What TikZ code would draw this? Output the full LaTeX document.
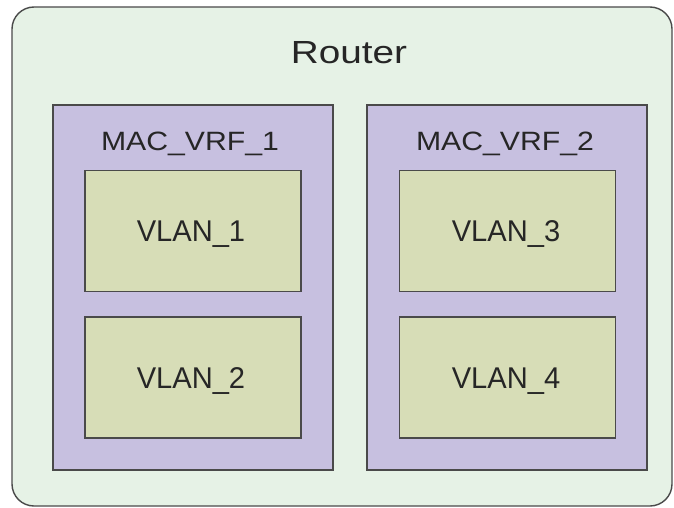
\documentclass[tikz,border=0pt]{standalone}
\usepackage{fontspec}
\setmainfont{Liberation Sans}
\newfontfamily\titlefont[FakeStretch=1.21]{Liberation Sans}
\newfontfamily\vrffont[FakeStretch=1.14]{Liberation Sans}
\newfontfamily\vlanfont[FakeStretch=0.97]{Liberation Sans}
\usetikzlibrary{positioning}

\definecolor{routerfill}{HTML}{E6F2E6}
\definecolor{vrffill}{HTML}{C7C0E0}
\definecolor{vlanfill}{HTML}{D7DDB7}
\definecolor{edgegray}{HTML}{4A4A4A}

\begin{document}
\begin{tikzpicture}[
    x=1pt, y=-1pt,
    every node/.style={align=center, inner sep=0pt, text=black!85},
    routerbox/.style={
        draw=edgegray, line width=1.4pt, fill=routerfill, rounded corners=22pt,
        minimum width=660pt, minimum height=499pt
    },
    vrfbox/.style={
        draw=edgegray, line width=1.4pt, fill=vrffill,
        minimum width=280pt, minimum height=365pt
    },
    vlanbox/.style={
        draw=edgegray, line width=1.4pt, fill=vlanfill,
        minimum width=216pt, minimum height=121pt
    },
    title/.style={anchor=base, font=\titlefont\fontsize{32}{35}\selectfont},
    vrflabel/.style={anchor=base, font=\vrffont\fontsize{26.5}{29}\selectfont},
    vlanlabel/.style={anchor=base, font=\vlanfont\fontsize{30}{33}\selectfont}
]
\useasboundingbox (0,0) rectangle (674,508);

% --- Router frame ---
\node[routerbox] (router) at (342,256.5) {};
\node[title] (routertxt) at (349,64) {Router};

% --- Left VRF with its two VLANs ---
\node[vrfbox] (vrf1) at (193,287.5) {};
\node[vrflabel] (vrf1txt) at (190,150) {MAC\_VRF\_1};
\node[vlanbox] (vlan1) at (193,231) {};
\node[vlanbox, below=24pt of vlan1] (vlan2) {};
\node[vlanlabel] at (191,241.5) {VLAN\_1};
\node[vlanlabel] at (191,388) {VLAN\_2};

% --- Right VRF with its two VLANs ---
\node[vrfbox] (vrf2) at (507,287.5) {};
\node[vrflabel] (vrf2txt) at (505,150) {MAC\_VRF\_2};
\node[vlanbox] (vlan3) at (507.5,231) {};
\node[vlanbox, below=24pt of vlan3] (vlan4) {};
\node[vlanlabel] at (506,241.5) {VLAN\_3};
\node[vlanlabel] at (506,388) {VLAN\_4};

\end{tikzpicture}
\end{document}
